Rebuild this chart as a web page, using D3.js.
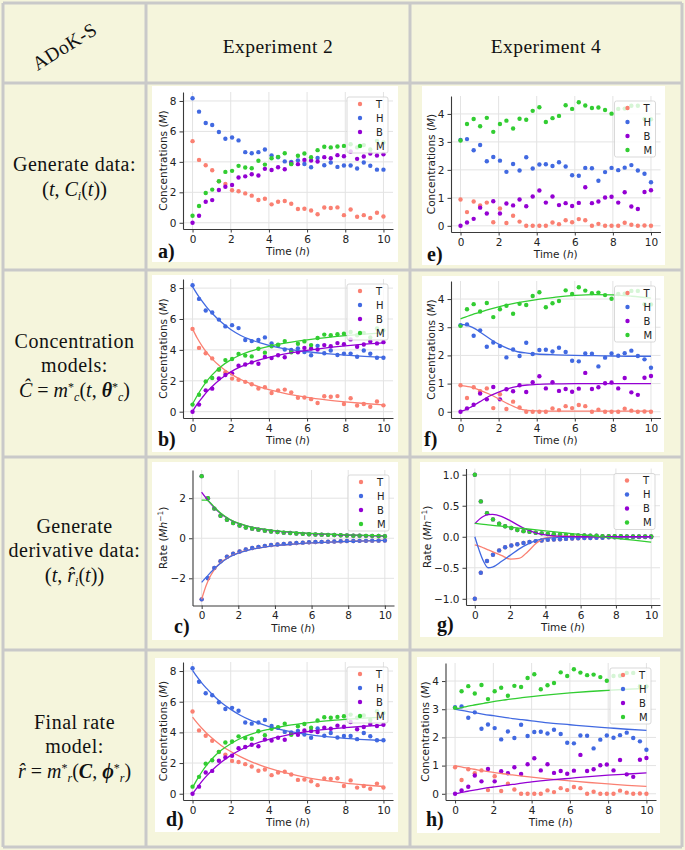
<!DOCTYPE html>
<html><head><meta charset="utf-8">
<script src="https://cdn.jsdelivr.net/npm/d3@7"></script>
<style>body{margin:0;background:#f5f5dc}svg{display:block}</style>
</head><body>
<svg id="fig" width="685" height="850"></svg>
<script>
// ---------------- DATA ----------------
const species = ["T", "H", "B", "M"];
const xTicks = [0, 2, 4, 6, 8, 10];
const concTicks2 = [0, 2, 4, 6, 8];
const concTicks4 = [0, 1, 2, 3, 4];
const rateTicks2 = [-2, 0, 2];
const rateTicks4 = [-1.0, -0.5, 0.0, 0.5, 1.0];

const timePts = [0,0.34,0.69,1.03,1.38,1.72,2.07,2.41,2.76,3.10,3.45,3.79,4.14,4.48,4.83,5.17,5.52,5.86,6.21,6.55,6.90,7.24,7.59,7.93,8.28,8.62,8.97,9.31,9.66,10];
const timeFit = [0,0.25,0.5,0.75,1,1.5,2,2.5,3,3.5,4,5,6,7,8,9,10];

// Experiment 2 measured concentrations
const e2T = [5.36,4.13,3.78,3.45,2.72,2.55,2.14,2.07,1.93,1.78,1.5,1.58,1.21,1.38,1.43,1.25,0.9,0.92,0.81,0.56,1.0,0.97,1.01,0.5,0.87,0.4,0.5,0.32,0.66,0.41];
const e2H = [8.18,7.3,6.55,6.42,5.96,5.52,5.6,5.41,4.64,4.57,4.64,4.81,4.42,4.3,4.03,4.0,4.1,3.86,3.65,4.26,3.78,3.96,3.67,3.76,3.76,3.56,3.96,3.75,3.49,3.49];
const e2B = [0,0.46,1.38,1.49,2.15,2.37,2.48,2.97,3.05,3.19,3.1,3.54,3.47,3.65,3.52,3.91,3.85,4.13,4.09,4.02,4.31,4.24,4.44,4.37,4.68,4.2,4.35,4.55,4.42,4.5];
const e2M = [0.46,1.1,1.96,2.18,2.73,3.34,3.41,3.74,3.63,3.58,4.07,3.82,4.24,4.33,4.57,3.85,4.4,4.55,4.31,4.77,4.99,4.95,5.01,5.05,5.16,4.95,5.1,4.81,5.38,5.27];

// Experiment 4 measured concentrations
const e4T = [0.94,0.49,0.87,0.73,0.83,0.13,0.62,0.1,0.36,0.15,0,0,0,0,0.12,0.06,0.2,0.13,0.24,0.2,0,0.07,0,0,0,0.11,0.04,0,0.01,0];
const e4H = [3.07,3.1,2.7,2.89,2.31,2.46,2.33,1.93,2.21,1.98,2.45,2.05,2.19,2.2,2.14,2.27,2.12,1.81,1.79,2.07,2.06,1.61,1.92,2.07,1.99,2.08,2.17,1.98,1.86,1.56];
const e4B = [0,0.12,0.25,0.65,0.44,0.88,0.44,0.8,0.73,0.94,0.7,1.05,1.26,0.83,1.05,0.74,0.81,0.71,0.82,1.38,0.81,0.87,1.01,1.04,0.83,1.2,0.69,0.6,1.21,1.27];
const e4M = [3.05,3.64,3.82,3.56,3.86,3.36,3.64,3.76,3.48,3.83,3.79,4.11,4.24,3.71,3.85,3.93,4.31,4.18,4.42,4.3,4.21,4.23,4.14,4.01,4.18,4.19,4.29,4.29,3.82,3.81];

// Concentration model fits
const cm2T = [5.36,4.75,4.25,3.82,3.45,2.88,2.45,2.1,1.83,1.6,1.42,1.14,0.93,0.77,0.64,0.53,0.44];
const cm2H = [8.1,7.6,7.15,6.75,6.4,5.8,5.32,4.95,4.68,4.47,4.3,4.05,3.88,3.76,3.66,3.58,3.52];
const cm2B = [0.02,0.5,0.9,1.28,1.6,2.15,2.58,2.9,3.15,3.35,3.52,3.78,3.97,4.13,4.26,4.37,4.46];
const cm2M = [0.5,1.05,1.55,1.98,2.35,2.93,3.35,3.67,3.9,4.08,4.23,4.47,4.65,4.8,4.92,5.02,5.1];
const cm4T = [0.93,0.91,0.88,0.83,0.77,0.63,0.46,0.28,0.13,0.05,0.03,0.02,0.02,0.02,0.02,0.02,0.02];
const cm4H = [3.1,3.08,3.03,2.95,2.84,2.61,2.4,2.24,2.13,2.08,2.05,2.02,2.0,1.99,1.98,1.97,1.97];
const cm4B = [0.02,0.07,0.15,0.25,0.35,0.55,0.7,0.82,0.9,0.95,0.97,0.99,1.0,1.0,1.0,1.0,1.0];
const cm4M = [3.3,3.36,3.42,3.48,3.53,3.63,3.72,3.8,3.87,3.93,3.98,4.07,4.13,4.16,4.15,4.1,4.03];

// Derivative (rate) data
const r2T = [-3.05,-2.0,-1.48,-1.15,-0.92,-0.77,-0.66,-0.56,-0.49,-0.43,-0.38,-0.34,-0.31,-0.28,-0.26,-0.24,-0.22,-0.2,-0.19,-0.18,-0.17,-0.16,-0.15,-0.14,-0.14,-0.13,-0.13,-0.12,-0.12,-0.11];
const r2H = [-3.05,-2.0,-1.48,-1.15,-0.92,-0.77,-0.66,-0.56,-0.49,-0.43,-0.38,-0.34,-0.31,-0.28,-0.26,-0.24,-0.22,-0.2,-0.19,-0.18,-0.17,-0.16,-0.15,-0.14,-0.14,-0.13,-0.13,-0.12,-0.12,-0.11];
const r2B = [3.1,2.0,1.48,1.12,0.92,0.76,0.64,0.54,0.48,0.43,0.38,0.34,0.31,0.28,0.26,0.24,0.22,0.2,0.19,0.18,0.17,0.16,0.15,0.14,0.13,0.13,0.12,0.12,0.11,0.1];
const r2M = [3.1,2.0,1.48,1.12,0.92,0.76,0.64,0.54,0.48,0.43,0.38,0.34,0.31,0.28,0.26,0.24,0.22,0.2,0.19,0.18,0.17,0.16,0.15,0.14,0.13,0.13,0.12,0.12,0.11,0.1];
const r4T = [-1.0,-0.58,-0.39,-0.29,-0.22,-0.17,-0.14,-0.12,-0.1,-0.085,-0.07,-0.06,-0.05,-0.045,-0.04,-0.035,-0.03,-0.025,-0.02,-0.02,-0.015,-0.015,-0.01,-0.01,-0.01,-0.005,-0.005,-0.005,-0.005,-0.005];
const r4H = [-1.0,-0.58,-0.39,-0.29,-0.22,-0.17,-0.14,-0.12,-0.1,-0.085,-0.07,-0.06,-0.05,-0.045,-0.04,-0.035,-0.03,-0.025,-0.02,-0.02,-0.015,-0.015,-0.01,-0.01,-0.01,-0.005,-0.005,-0.005,-0.005,-0.005];
const r4B = [1.0,0.57,0.38,0.28,0.21,0.17,0.14,0.11,0.09,0.08,0.065,0.055,0.045,0.04,0.035,0.03,0.025,0.02,0.02,0.015,0.015,0.01,0.01,0.01,0.01,0.005,0.005,0.005,0.005,0.005];
const r4M = [1.0,0.57,0.38,0.28,0.21,0.17,0.14,0.11,0.09,0.08,0.065,0.055,0.045,0.04,0.035,0.03,0.025,0.02,0.02,0.015,0.015,0.01,0.01,0.01,0.01,0.005,0.005,0.005,0.005,0.005];

// Rate fits (derivative of concentration models)
const rf2T = [-3.05,-2.35,-1.85,-1.5,-1.25,-0.93,-0.73,-0.6,-0.5,-0.43,-0.37,-0.29,-0.23,-0.19,-0.16,-0.13,-0.11];
const rf2H = [-2.2,-1.95,-1.7,-1.47,-1.27,-0.95,-0.74,-0.6,-0.5,-0.43,-0.37,-0.29,-0.23,-0.19,-0.16,-0.13,-0.11];
const rf2B = [2.3,2.0,1.72,1.47,1.26,0.95,0.74,0.6,0.5,0.43,0.37,0.29,0.23,0.19,0.16,0.13,0.11];
const rf2M = [1.9,1.9,1.75,1.5,1.28,0.96,0.75,0.61,0.51,0.44,0.38,0.3,0.24,0.2,0.17,0.14,0.12];
const rf4T = [-0.13,-0.15,-0.18,-0.21,-0.24,-0.3,-0.36,-0.35,-0.24,-0.1,-0.02,0.01,0.005,0,0,0,0];
const rf4H = [0,-0.22,-0.4,-0.5,-0.49,-0.4,-0.3,-0.2,-0.12,-0.06,-0.03,-0.01,-0.005,0,0,0,0];
const rf4B = [0.21,0.28,0.33,0.355,0.36,0.33,0.26,0.18,0.11,0.06,0.03,0.005,0,0,0,0,0];
const rf4M = [0.215,0.208,0.2,0.193,0.185,0.17,0.155,0.14,0.125,0.11,0.095,0.065,0.035,0.005,-0.025,-0.055,-0.086];

// Final rate model simulations
const fm2T = [5.0,4.6,4.25,3.93,3.65,3.15,2.75,2.42,2.13,1.88,1.67,1.32,1.05,0.85,0.69,0.57,0.47];
const fm2H = [8.05,7.6,7.2,6.85,6.52,5.95,5.5,5.12,4.82,4.58,4.38,4.08,3.87,3.72,3.61,3.53,3.47];
const fm2B = [0,0.42,0.82,1.18,1.5,2.05,2.5,2.85,3.13,3.36,3.55,3.84,4.05,4.2,4.31,4.4,4.47];
const fm2M = [0.4,0.95,1.45,1.88,2.25,2.83,3.26,3.6,3.85,4.05,4.2,4.45,4.62,4.75,4.85,4.93,5.0];
const fm4T = [1.0,0.96,0.93,0.9,0.87,0.81,0.76,0.71,0.67,0.63,0.59,0.52,0.46,0.4,0.35,0.3,0.26];
const fm4H = [3.0,2.97,2.94,2.91,2.88,2.82,2.77,2.72,2.67,2.63,2.59,2.51,2.45,2.39,2.34,2.29,2.25];
const fm4B = [0,0.035,0.07,0.1,0.13,0.19,0.24,0.29,0.33,0.38,0.42,0.49,0.55,0.61,0.66,0.7,0.74];
const fm4M = [3.0,3.04,3.08,3.12,3.15,3.21,3.27,3.32,3.37,3.41,3.45,3.52,3.58,3.63,3.67,3.71,3.74];

// ---------------- STYLE / LAYOUT ----------------
const colors = {T: "#fa8072", H: "#4169e1", B: "#9400d3", M: "#32cd32"};
const cream = "#f5f5dc", gridLine = "#c9c9c9";
const colX = [3, 146, 410, 682];
const rowY = [3, 83, 270, 457, 650, 847];
const serif = "Liberation Serif", sans = "DejaVu Sans";

const panels = [
  {id:"a)", pts:{T:e2T,H:e2H,B:e2B,M:e2M}, fit:null, yTicks:concTicks2, kind:"conc", fmt:d3.format("d"),
   box:[152,86,398,262], L:183, R:393, T:92, B:229, lab:[158,258]},
  {id:"b)", pts:{T:e2T,H:e2H,B:e2B,M:e2M}, fit:{T:cm2T,H:cm2H,B:cm2B,M:cm2M}, yTicks:concTicks2, kind:"conc", fmt:d3.format("d"),
   box:[152,275,398,452], L:183, R:393, T:279, B:418, lab:[158,446]},
  {id:"c)", pts:{T:r2T,H:r2H,B:r2B,M:r2M}, fit:{T:rf2T,H:rf2H,B:rf2B,M:rf2M}, yTicks:rateTicks2, kind:"rate", fmt:d3.format("d"),
   box:[152,462,398,640], L:192.5, R:394, T:470, B:605.5, lab:[174,633]},
  {id:"d)", pts:{T:e2T,H:e2H,B:e2B,M:e2M}, fit:{T:fm2T,H:fm2H,B:fm2B,M:fm2M}, yTicks:concTicks2, kind:"conc", fmt:d3.format("d"),
   box:[155,658,398,832], L:183, R:393, T:662, B:800, lab:[166,826]},
  {id:"e)", pts:{T:e4T,H:e4H,B:e4B,M:e4M}, fit:null, yTicks:concTicks4, kind:"conc", fmt:d3.format("d"),
   box:[422,86,665,265], L:451, R:660.5, T:96, B:232, lab:[427,261]},
  {id:"f)", pts:{T:e4T,H:e4H,B:e4B,M:e4M}, fit:{T:cm4T,H:cm4H,B:cm4B,M:cm4M}, yTicks:concTicks4, kind:"conc", fmt:d3.format("d"),
   box:[422,276,664,452], L:451, R:660.5, T:281, B:418, lab:[424,446]},
  {id:"g)", pts:{T:r4T,H:r4H,B:r4B,M:r4M}, fit:{T:rf4T,H:rf4H,B:rf4B,M:rf4M}, yTicks:rateTicks4, kind:"rate", fmt:d3.format(".1f"),
   box:[420,462,663,637], L:466, R:660, T:468.5, B:605, lab:[437,631]},
  {id:"h)", pts:{T:e4T,H:e4H,B:e4B,M:e4M}, fit:{T:fm4T,H:fm4H,B:fm4B,M:fm4M}, yTicks:concTicks4, kind:"conc", fmt:d3.format("d"),
   box:[417,657,660,833], L:445.5, R:656, T:663, B:800, lab:[426,826]}
];

// ---------------- DRAW ----------------
const fig = d3.select("#fig");
fig.append("rect").attr("width", 685).attr("height", 850).attr("fill", cream);

function drawPanel(p) {
  const g = fig.append("g");
  const [bx0, by0, bx1, by1] = p.box;
  g.append("rect").attr("x", bx0).attr("y", by0).attr("width", bx1 - bx0).attr("height", by1 - by0).attr("fill", "#fff");

  const x = d3.scaleLinear().domain([-0.5, 10.5]).range([p.L, p.R]);
  const allY = [];
  species.forEach(s => { allY.push(...p.pts[s]); if (p.fit) allY.push(...p.fit[s]); });
  const [lo, hi] = d3.extent(allY);
  const pad = (hi - lo) * 0.05;
  const y = d3.scaleLinear().domain([lo - pad, hi + pad]).range([p.B, p.T]);

  // grid
  g.append("g").selectAll("line").data(xTicks).join("line")
    .attr("x1", d => x(d)).attr("x2", d => x(d)).attr("y1", p.T).attr("y2", p.B)
    .attr("stroke", "#e3e3e3").attr("stroke-width", 1);
  g.append("g").selectAll("line").data(p.yTicks).join("line")
    .attr("x1", p.L).attr("x2", p.R).attr("y1", d => y(d)).attr("y2", d => y(d))
    .attr("stroke", "#e3e3e3").attr("stroke-width", 1);

  // axes
  const xa = g.append("g").attr("transform", `translate(0,${p.B})`)
    .call(d3.axisBottom(x).tickValues(xTicks).tickFormat(d3.format("d")).tickSizeInner(3.5).tickSizeOuter(0).tickPadding(3));
  const ya = g.append("g").attr("transform", `translate(${p.L},0)`)
    .call(d3.axisLeft(y).tickValues(p.yTicks).tickFormat(p.fmt).tickSizeInner(3.5).tickSizeOuter(0).tickPadding(3));
  [xa, ya].forEach(a => {
    a.attr("font-family", sans).attr("font-size", 10.5);
    a.select(".domain").attr("stroke", "#3a3a3a").attr("stroke-width", 1.1);
    a.selectAll(".tick line").attr("stroke", "#3a3a3a");
    a.selectAll(".tick text").attr("fill", "#222");
  });

  // points
  species.forEach(s => {
    g.append("g").selectAll("circle").data(p.pts[s]).join("circle")
      .attr("cx", (d, i) => x(timePts[i])).attr("cy", d => y(d))
      .attr("r", 2.2).attr("fill", colors[s]);
  });
  // fitted lines
  if (p.fit) {
    const line = d3.line().x((d, i) => x(timeFit[i])).y(d => y(d)).curve(d3.curveMonotoneX);
    species.forEach(s => {
      g.append("path").datum(p.fit[s]).attr("d", line)
        .attr("fill", "none").attr("stroke", colors[s]).attr("stroke-width", 1.3);
    });
  }

  // legend
  const lw = 41, lh = 56;
  const lx = p.R - 5 - lw, ly = p.T + 5;
  g.append("rect").attr("x", lx).attr("y", ly).attr("width", lw).attr("height", lh).attr("rx", 2)
    .attr("fill", "#fff").attr("fill-opacity", 0.8).attr("stroke", "#cfcfcf").attr("stroke-width", 0.8);
  species.forEach((s, i) => {
    const yy = ly + 7 + 14 * i;
    g.append("circle").attr("cx", lx + 13).attr("cy", yy).attr("r", 2.2).attr("fill", colors[s]);
    g.append("text").attr("x", lx + 29).attr("y", yy).attr("dy", "0.35em")
      .attr("font-family", sans).attr("font-size", 10).attr("fill", "#222").text(s);
  });

  // axis labels
  const xl = g.append("text").attr("x", (p.L + p.R) / 2).attr("y", p.B + 26)
    .attr("text-anchor", "middle").attr("font-family", sans).attr("font-size", 10.5).attr("fill", "#222");
  xl.append("tspan").text("Time (");
  xl.append("tspan").attr("font-style", "italic").text("h");
  xl.append("tspan").text(")");

  const maxw = d3.max(ya.selectAll(".tick text").nodes(), n => n.getComputedTextLength());
  const cx = p.L - 6.5 - maxw - 7;
  const cy = (p.T + p.B) / 2;
  const yl = g.append("text").attr("transform", `translate(${cx},${cy}) rotate(-90)`)
    .attr("text-anchor", "middle").attr("dy", "0.35em")
    .attr("font-family", sans).attr("font-size", 10.5).attr("fill", "#222");
  if (p.kind === "conc") {
    yl.append("tspan").text("Concentrations (");
    yl.append("tspan").attr("font-style", "italic").text("M");
    yl.append("tspan").text(")");
  } else {
    yl.append("tspan").text("Rate (");
    yl.append("tspan").attr("font-style", "italic").text("Mh");
    yl.append("tspan").attr("font-size", 7.5).attr("dy", -4).text("\u22121");
    yl.append("tspan").attr("dy", 4).text(")");
  }

  // panel letter
  g.append("text").attr("x", p.lab[0]).attr("y", p.lab[1])
    .attr("font-family", serif).attr("font-weight", "bold").attr("font-size", 20).attr("fill", "#111").text(p.id);
}

panels.forEach(drawPanel);

// table grid
const tg = fig.append("g").attr("stroke", gridLine).attr("stroke-width", 3);
colX.forEach(cx => tg.append("line").attr("x1", cx).attr("x2", cx).attr("y1", rowY[0]).attr("y2", rowY[rowY.length - 1]));
rowY.forEach(ry => tg.append("line").attr("x1", colX[0]).attr("x2", colX[colX.length - 1]).attr("y1", ry).attr("y2", ry));

// header texts
const headers = ["Experiment 2", "Experiment 4"];
headers.forEach((h, i) => {
  fig.append("text").attr("x", (colX[i + 1] + colX[i + 2]) / 2).attr("y", 53)
    .attr("text-anchor", "middle").attr("font-family", serif).attr("font-size", 19.5)
    .attr("letter-spacing", 0.4).attr("fill", "#111").text(h);
});
fig.append("text").attr("transform", "translate(68,52) rotate(-32)")
  .attr("text-anchor", "middle").attr("font-family", serif).attr("font-size", 19.5)
  .attr("letter-spacing", 0.4).attr("fill", "#111").text("ADoK-S");

// row descriptions
const rowLines = [
  {lines: ["Generate data:"], y0: 171},
  {lines: ["Concentration", "models:"], y0: 348},
  {lines: ["Generate", "derivative data:"], y0: 533},
  {lines: ["Final rate", "model:"], y0: 729}
];
const formulas = [
  [{t:"(",fs:21},{t:"t",it:1},{t:", "},{t:"C",it:1},{t:"i",it:1,fs:12,dy:4},{t:"(",dy:-4},{t:"t",it:1},{t:")"},{t:")",fs:21}],
  [{t:"\u0108",it:1},{t:" = "},{t:"m",it:1},{t:"*",fs:12,dy:-6},{t:"c",it:1,fs:12,dy:10},{t:"(",dy:-4},{t:"t",it:1},{t:", "},{t:"\u03b8",it:1,b:1},{t:"*",fs:12,dy:-6},{t:"c",it:1,fs:12,dy:10},{t:")",dy:-4}],
  [{t:"(",fs:21},{t:"t",it:1},{t:", "},{t:"r\u0302",it:1},{t:"i",it:1,fs:12,dy:4},{t:"(",dy:-4},{t:"t",it:1},{t:")"},{t:")",fs:21}],
  [{t:"r\u0302",it:1},{t:" = "},{t:"m",it:1},{t:"*",fs:12,dy:-6},{t:"r",it:1,fs:12,dy:10},{t:"(",dy:-4},{t:"C",it:1,b:1},{t:", "},{t:"\u03d5",it:1,b:1},{t:"*",fs:12,dy:-6},{t:"r",it:1,fs:12,dy:10},{t:")",dy:-4}]
];
rowLines.forEach((r, i) => {
  const cxm = (colX[0] + colX[1]) / 2;
  r.lines.forEach((ln, j) => {
    fig.append("text").attr("x", cxm).attr("y", r.y0 + j * 23.5).attr("text-anchor", "middle")
      .attr("font-family", serif).attr("font-size", 20).attr("letter-spacing", 0.5).attr("fill", "#111").text(ln);
  });
  const ft = fig.append("text").attr("x", cxm).attr("y", r.y0 + r.lines.length * 23.5 + 1.5)
    .attr("text-anchor", "middle").attr("font-family", serif).attr("font-size", 20).attr("fill", "#111");
  formulas[i].forEach(part => {
    const ts = ft.append("tspan").text(part.t);
    if (part.it) ts.attr("font-style", "italic");
    if (part.b) ts.attr("font-weight", "bold");
    if (part.fs) ts.attr("font-size", part.fs);
    if (part.dy) ts.attr("dy", part.dy);
    if (part.dx) ts.attr("dx", part.dx);
  });
});
</script>
</body></html>
